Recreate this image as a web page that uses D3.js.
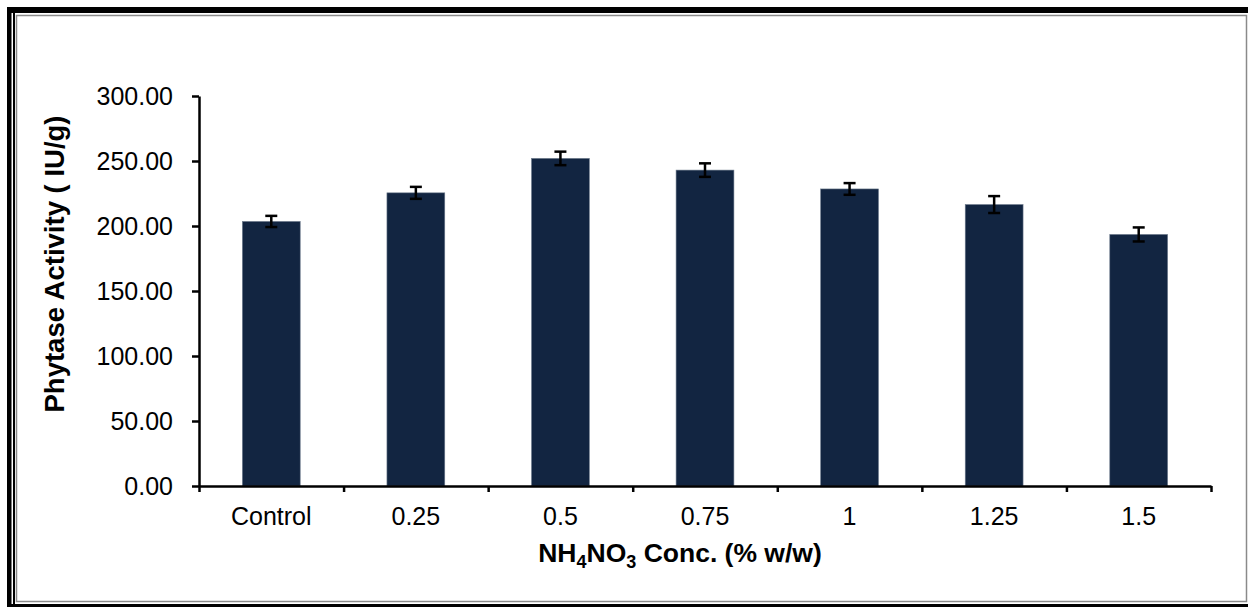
<!DOCTYPE html>
<html>
<head>
<meta charset="utf-8">
<script src="https://cdn.jsdelivr.net/npm/d3@7"></script>
<style>
  html, body { margin: 0; padding: 0; background: #fff; }
  svg { display: block; font-family: "Liberation Sans", Arial, sans-serif; }
</style>
</head>
<body>
<div id="chart"></div>
<script>
// Phytase activity vs NH4NO3 concentration
const width = 1248;
const height = 607;
const margin = { top: 96, right: 37, bottom: 121, left: 199 };

const categories = ['Control', '0.25', '0.5', '0.75', '1', '1.25', '1.5'];
const activity = [203.5, 225.5, 252.0, 243.0, 228.5, 216.5, 193.5];
const errors = [4.3, 4.6, 5.2, 5.2, 4.5, 6.5, 5.4];
const yTicks = [0, 50, 100, 150, 200, 250, 300];

const svg = d3.select('#chart')
    .append('svg')
    .attr('width', width)
    .attr('height', height);

// frame
svg.append('rect').attr('x', 7).attr('y', 7).attr('width', width - 7).attr('height', 6).attr('fill', '#000');
svg.append('rect').attr('x', 7).attr('y', 7).attr('width', 4.5).attr('height', height - 7).attr('fill', '#000');
svg.append('rect').attr('x', 13).attr('y', 7).attr('width', 2).attr('height', height - 7).attr('fill', '#000');
svg.append('rect').attr('x', 7).attr('y', 604).attr('width', width - 7).attr('height', 3).attr('fill', '#000');
svg.append('rect')
    .attr('x', 16.5).attr('y', 15.5)
    .attr('width', 1230).attr('height', 586)
    .attr('fill', 'none')
    .attr('stroke', '#8a8a8a')
    .attr('stroke-width', 1.5);

const x = d3.scaleBand()
    .domain(categories)
    .range([margin.left, width - margin.right])
    .paddingInner(0.6)
    .paddingOuter(0.3);

const xEdge = d3.scaleLinear()
    .domain([0, categories.length])
    .range([margin.left, width - margin.right]);

const y = d3.scaleLinear()
    .domain([0, 300])
    .range([height - margin.bottom, margin.top]);

// bars
svg.selectAll('.bar')
    .data(activity)
    .enter()
    .append('rect')
    .attr('class', 'bar')
    .attr('x', (d, i) => x(categories[i]))
    .attr('y', d => y(d))
    .attr('width', x.bandwidth())
    .attr('height', d => y(0) - y(d))
    .attr('fill', '#122541')
    .attr('stroke', '#6d7a8c')
    .attr('stroke-width', 0.6);

// error bars
const eb = svg.selectAll('.err')
    .data(activity)
    .enter()
    .append('g')
    .attr('class', 'err')
    .attr('stroke', '#000')
    .attr('stroke-width', 2.5);

eb.append('line')
    .attr('x1', (d, i) => x(categories[i]) + x.bandwidth() / 2)
    .attr('x2', (d, i) => x(categories[i]) + x.bandwidth() / 2)
    .attr('y1', (d, i) => y(d + errors[i]))
    .attr('y2', (d, i) => y(d - errors[i]));

[1, -1].forEach(s => {
    eb.append('line')
        .attr('x1', (d, i) => x(categories[i]) + x.bandwidth() / 2 - 6)
        .attr('x2', (d, i) => x(categories[i]) + x.bandwidth() / 2 + 6)
        .attr('y1', (d, i) => y(d + s * errors[i]))
        .attr('y2', (d, i) => y(d + s * errors[i]));
});

// y axis
const yAxis = svg.append('g')
    .attr('transform', `translate(${margin.left},0)`)
    .call(d3.axisLeft(y).tickValues(yTicks).tickFormat(d3.format('.2f')).tickSize(7).tickSizeOuter(0).tickPadding(19));
yAxis.select('.domain').attr('stroke-width', 2.5);
yAxis.selectAll('.tick line').attr('stroke-width', 2.5);
yAxis.selectAll('text').attr('font-size', 25).attr('fill', '#000').attr('font-family', '"Liberation Sans", Arial, sans-serif');

// x axis: ticks on category edges, labels centred in bands
const xAxis = svg.append('g')
    .attr('transform', `translate(0,${y(0)})`)
    .call(d3.axisBottom(xEdge).tickValues(d3.range(categories.length + 1)).tickFormat('').tickSize(6).tickSizeOuter(0));
xAxis.select('.domain').attr('stroke-width', 2.5);
xAxis.selectAll('.tick line').attr('stroke-width', 2.5);

svg.selectAll('.xlabel')
    .data(categories)
    .enter()
    .append('text')
    .attr('class', 'xlabel')
    .attr('x', d => x(d) + x.bandwidth() / 2)
    .attr('y', 525)
    .attr('text-anchor', 'middle')
    .attr('font-size', 25)
    .attr('fill', '#000')
    .text(d => d);

// axis titles
svg.append('text')
    .attr('transform', 'translate(64,264) rotate(-90)')
    .attr('text-anchor', 'middle')
    .attr('font-size', 27.5)
    .attr('font-weight', 'bold')
    .attr('fill', '#000')
    .text('Phytase Activity ( IU/g)');

const xt = svg.append('text')
    .attr('x', 680)
    .attr('y', 562)
    .attr('text-anchor', 'middle')
    .attr('font-size', 26.5)
    .attr('font-weight', 'bold')
    .attr('fill', '#000');
xt.append('tspan').text('NH');
xt.append('tspan').attr('font-size', 18).attr('dy', 6).text('4');
xt.append('tspan').attr('dy', -6).text('NO');
xt.append('tspan').attr('font-size', 18).attr('dy', 6).text('3');
xt.append('tspan').attr('dy', -6).text(' Conc. (% w/w)');
</script>
</body>
</html>
